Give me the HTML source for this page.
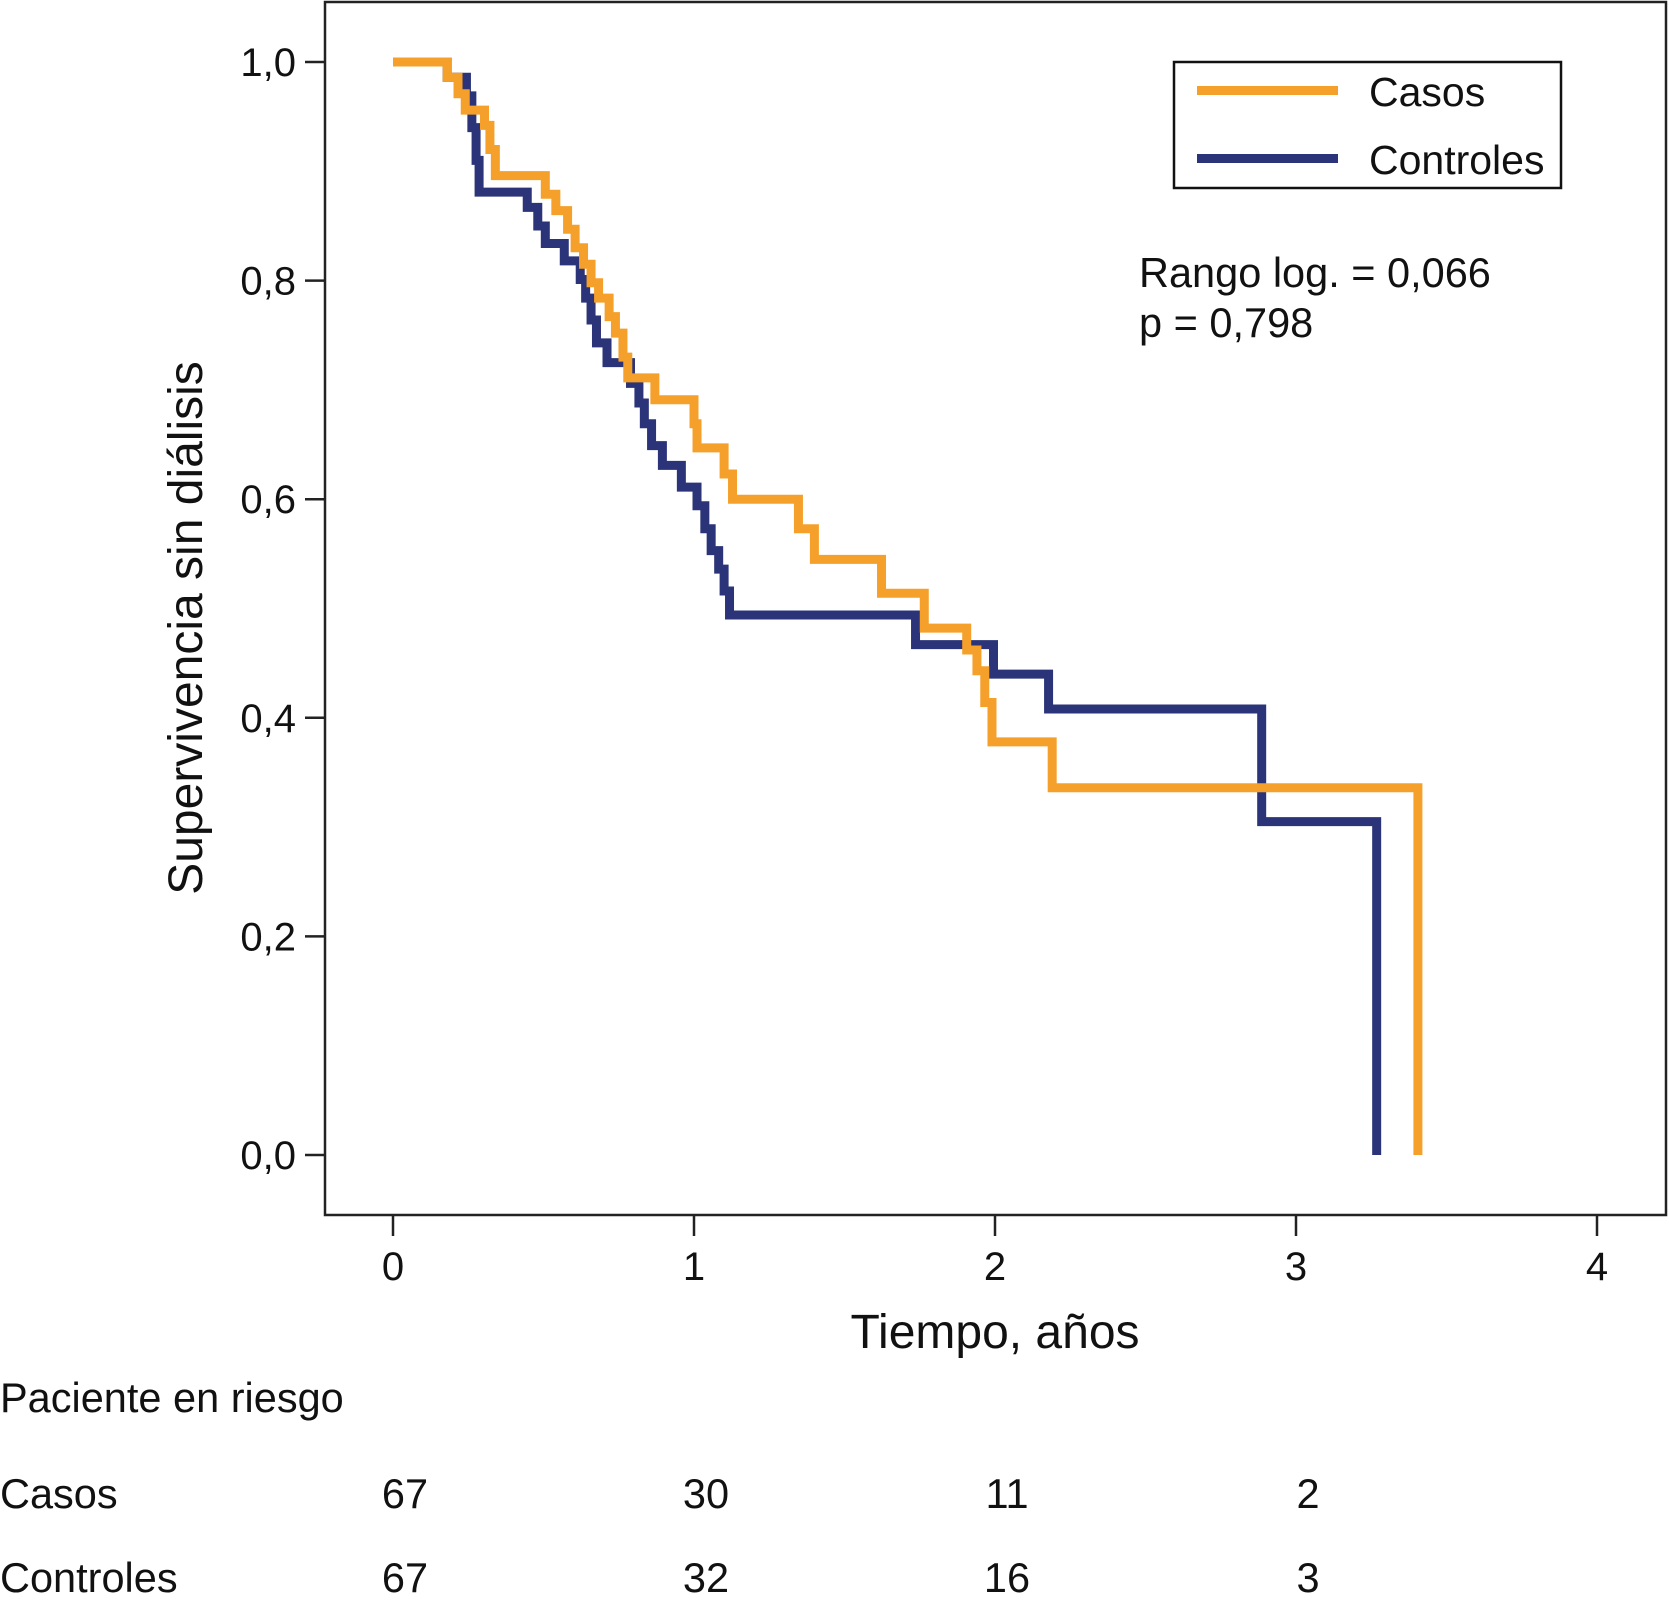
<!DOCTYPE html>
<html><head><meta charset="utf-8"><style>
html,body{margin:0;padding:0;background:#fff;}
svg{display:block;font-family:"Liberation Sans",Arial,sans-serif;}
</style></head><body>
<svg id="chart" width="1669" height="1614" viewBox="0 0 1669 1614">
  <rect x="325" y="2" width="1341" height="1213" fill="#fff" stroke="#222" stroke-width="2.5"/>
  <g id="yaxis"></g>
  <g id="xaxis"></g>
  <g id="series"></g>
  <text x="0" y="0" transform="translate(202,628) rotate(-90)" text-anchor="middle" font-size="48" fill="#111">Supervivencia sin diálisis</text>
  <text x="995" y="1348" text-anchor="middle" font-size="48" fill="#111">Tiempo, años</text>
  <g>
    <rect x="1174" y="62" width="387" height="126" fill="#fff" stroke="#111" stroke-width="2.5"/>
    <line x1="1197" y1="90.5" x2="1338" y2="90.5" stroke="#F5A02A" stroke-width="9"/>
    <text x="1369" y="106" font-size="41" fill="#111">Casos</text>
    <line x1="1197" y1="158.5" x2="1338" y2="158.5" stroke="#2B3478" stroke-width="9"/>
    <text x="1369" y="174" font-size="41" fill="#111">Controles</text>
  </g>
  <text x="1139" y="287" font-size="41.5" fill="#111">Rango log. = 0,066</text>
  <text x="1139" y="337" font-size="41.5" fill="#111">p = 0,798</text>
  <g id="risk">
    <text x="0" y="1412" font-size="41.5" fill="#111">Paciente en riesgo</text>
    <text x="0" y="1508" font-size="41.5" fill="#111">Casos</text>
    <text x="0" y="1592" font-size="41.5" fill="#111">Controles</text>
  </g>
</svg>
<script>
const xTicks = [0, 1, 2, 3, 4];
const yTicks = [0, 0.2, 0.4, 0.6, 0.8, 1.0];
const yTickLabels = ["0,0", "0,2", "0,4", "0,6", "0,8", "1,0"];
const casosTimes = [0, 0.18, 0.216, 0.24, 0.304, 0.322, 0.34, 0.506, 0.541, 0.58, 0.605, 0.633, 0.658, 0.683, 0.718, 0.739, 0.764, 0.78, 0.87, 1.0, 1.01, 1.10, 1.128, 1.347, 1.40, 1.623, 1.765, 1.906, 1.94, 1.966, 1.99, 2.19, 3.405];
const casosSurv = [1.0, 0.986, 0.971, 0.956, 0.942, 0.920, 0.896, 0.879, 0.864, 0.847, 0.83, 0.815, 0.798, 0.784, 0.767, 0.752, 0.730, 0.711, 0.691, 0.669, 0.647, 0.623, 0.60, 0.573, 0.545, 0.514, 0.482, 0.462, 0.443, 0.414, 0.378, 0.336, 0.0];
const controlesTimes = [0, 0.18, 0.244, 0.262, 0.276, 0.286, 0.446, 0.481, 0.506, 0.569, 0.622, 0.64, 0.658, 0.676, 0.711, 0.789, 0.817, 0.835, 0.859, 0.895, 0.958, 1.01, 1.036, 1.057, 1.082, 1.10, 1.118, 1.736, 1.995, 2.178, 2.886, 3.268];
const controlesSurv = [1.0, 0.986, 0.969, 0.94, 0.91, 0.881, 0.867, 0.85, 0.834, 0.818, 0.801, 0.784, 0.764, 0.743, 0.725, 0.706, 0.688, 0.669, 0.649, 0.631, 0.611, 0.594, 0.573, 0.553, 0.536, 0.516, 0.494, 0.467, 0.44, 0.408, 0.305, 0.0];
const riskTimes = [0, 1, 2, 3];
const riskCasos = [67, 30, 11, 2];
const riskControles = [67, 32, 16, 3];

const NS = "http://www.w3.org/2000/svg";
const X = t => 393 + t * 301;
const Y = s => 1155 - s * 1093;
function mk(tag, attrs, parent) {
  const e = document.createElementNS(NS, tag);
  for (const k in attrs) e.setAttribute(k, attrs[k]);
  parent.appendChild(e);
  return e;
}
const yax = document.getElementById("yaxis");
yTicks.forEach((v, i) => {
  const l = mk("line", {x1: 305, x2: 325, y1: Y(v), y2: Y(v), stroke: "#222", "stroke-width": 2.5}, yax);
  
  
  const t = mk("text", {x: 296, y: Y(v) + 14, "text-anchor": "end", "font-size": 40, fill: "#111"}, yax);
  t.textContent = yTickLabels[i];
  
  
});
const xax = document.getElementById("xaxis");
xTicks.forEach(v => {
  const l = mk("line", {x1: X(v), x2: X(v), y1: 1215, y2: 1236, stroke: "#222", "stroke-width": 2.5}, xax);
  
  
  const t = mk("text", {x: X(v), y: 1280, "text-anchor": "middle", "font-size": 40, fill: "#111"}, xax);
  t.textContent = String(v);
  
  
});
function stepPath(ts, ss) {
  let d = "M" + X(ts[0]) + "," + Y(ss[0]);
  for (let i = 1; i < ts.length; i++) {
    d += " H" + X(ts[i]) + " V" + Y(ss[i]);
  }
  return d;
}
const sg = document.getElementById("series");
const pc = mk("path", {d: stepPath(controlesTimes, controlesSurv), fill: "none", stroke: "#2B3478", "stroke-width": 9, "stroke-linejoin": "miter"}, sg);


const pa = mk("path", {d: stepPath(casosTimes, casosSurv), fill: "none", stroke: "#F5A02A", "stroke-width": 9, "stroke-linejoin": "miter"}, sg);


const risk = document.getElementById("risk");
riskTimes.forEach((t, i) => {
  const a = mk("text", {x: X(t) + 12, y: 1508, "text-anchor": "middle", "font-size": 41.5, fill: "#111"}, risk);
  a.textContent = riskCasos[i];
  
  
  const b = mk("text", {x: X(t) + 12, y: 1592, "text-anchor": "middle", "font-size": 41.5, fill: "#111"}, risk);
  b.textContent = riskControles[i];
  
  
});
</script>
</body></html>
